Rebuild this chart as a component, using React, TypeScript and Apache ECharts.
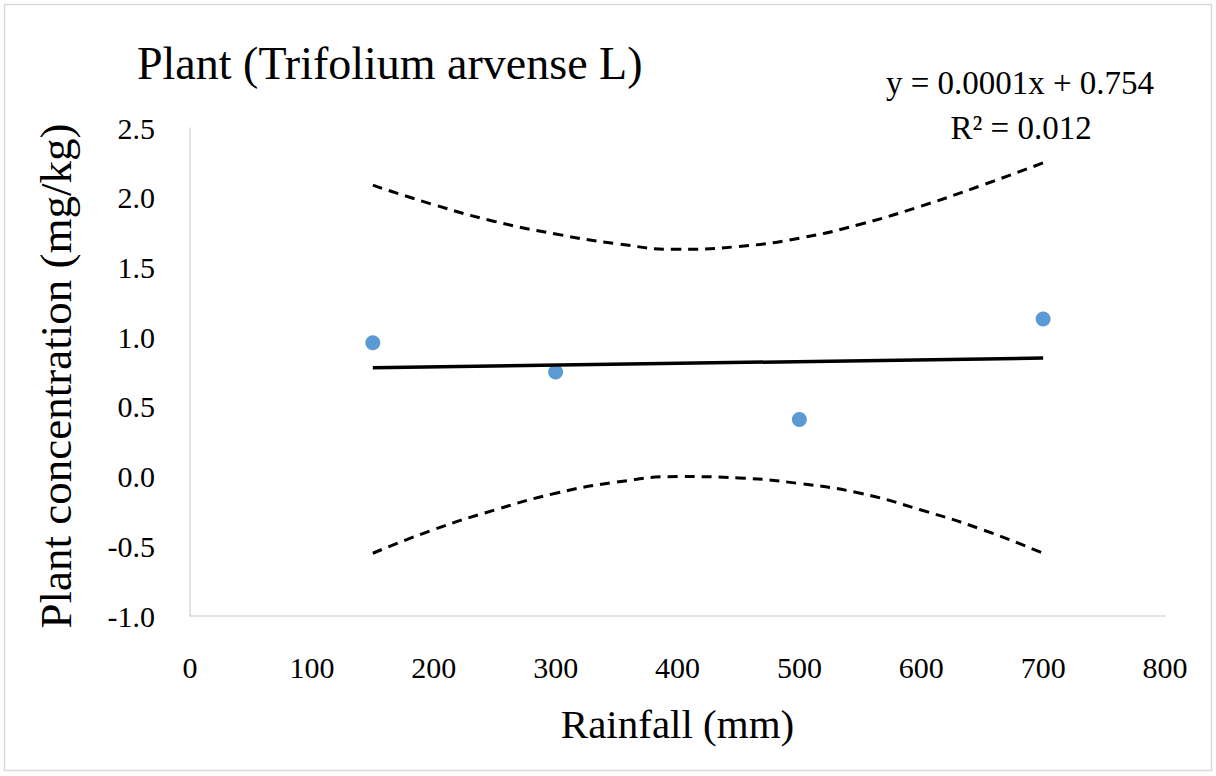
import React, { useEffect, useRef } from "react";
import * as echarts from "echarts";

const rainfall = [150, 300, 500, 700];
const concentration = [0.96, 0.75, 0.41, 1.13];
const trendX = [150, 700];
const trendY = [0.78, 0.85];
const bandX = [150, 200, 250, 300, 350, 400, 450, 500, 550, 600, 650, 700];
const upperBand = [2.09, 1.95, 1.83, 1.74, 1.67, 1.63, 1.65, 1.71, 1.81, 1.94, 2.09, 2.25];
const lowerBand = [-0.55, -0.38, -0.24, -0.12, -0.04, 0.0, -0.01, -0.05, -0.12, -0.24, -0.38, -0.55];
const titleText = "Plant (Trifolium arvense L)";
const equationText = "y = 0.0001x + 0.754";
const r2Text = "R² = 0.012";
const xName = "Rainfall (mm)";
const yName = "Plant concentration (mg/kg)";

const FONT = "Liberation Serif";

export default function App() {
  const ref = useRef<HTMLDivElement>(null);
  useEffect(() => {
    document.body.style.margin = "0";
    const chart = echarts.init(ref.current!, null, { renderer: "svg" });
    const zip = (xs: number[], ys: number[]) => xs.map((x, i) => [x, ys[i]]);
    chart.setOption({
      animation: false,
      backgroundColor: "#ffffff",
      textStyle: { fontFamily: FONT },
      grid: { left: 190, right: 51, top: 128, bottom: 160 },
      graphic: [
        {
          type: "rect",
          shape: { x: 4.5, y: 4.5, width: 1207, height: 766 },
          style: { fill: "none", stroke: "#d9d9d9", lineWidth: 1.5 },
          silent: true,
        },
        {
          type: "text",
          x: 137,
          y: 63,
          style: {
            text: titleText,
            fontFamily: FONT,
            fontSize: 46,
            fill: "#000",
            textAlign: "left",
            textVerticalAlign: "middle",
          },
        },
        {
          type: "text",
          x: 1020,
          y: 83,
          style: {
            text: equationText,
            fontFamily: FONT,
            fontSize: 33,
            fill: "#000",
            textAlign: "center",
            textVerticalAlign: "middle",
          },
        },
        {
          type: "text",
          x: 1021,
          y: 128,
          style: {
            text: r2Text,
            fontFamily: FONT,
            fontSize: 33,
            fill: "#000",
            textAlign: "center",
            textVerticalAlign: "middle",
          },
        },
      ],
      xAxis: {
        type: "value",
        min: 0,
        max: 800,
        interval: 100,
        name: xName,
        nameLocation: "middle",
        nameGap: 87,
        nameTextStyle: { fontSize: 41, color: "#000", fontFamily: FONT },
        axisLine: { show: true, onZero: false, lineStyle: { color: "#d9d9d9", width: 1.5 } },
        axisTick: { show: false },
        splitLine: { show: false },
        axisLabel: { fontSize: 30, color: "#000", margin: 36, fontFamily: FONT },
      },
      yAxis: {
        type: "value",
        min: -1,
        max: 2.5,
        interval: 0.5,
        name: yName,
        nameLocation: "middle",
        nameGap: 112,
        nameRotate: 90,
        nameTextStyle: { fontSize: 45, color: "#000", fontFamily: FONT, padding: [0, 8, 0, 0] },
        axisLine: { show: true, onZero: false, lineStyle: { color: "#d9d9d9", width: 1.5 } },
        axisTick: { show: false },
        splitLine: { show: false },
        axisLabel: {
          fontSize: 30,
          color: "#000",
          margin: 35,
          fontFamily: FONT,
          formatter: (v: number) => v.toFixed(1),
        },
      },
      series: [
        {
          type: "line",
          data: zip(bandX, upperBand),
          smooth: true,
          showSymbol: false,
          lineStyle: { color: "#000", width: 3, type: [10, 7] },
          silent: true,
        },
        {
          type: "line",
          data: zip(bandX, lowerBand),
          smooth: true,
          showSymbol: false,
          lineStyle: { color: "#000", width: 3, type: [10, 7] },
          silent: true,
        },
        {
          type: "line",
          data: zip(trendX, trendY),
          showSymbol: false,
          lineStyle: { color: "#000", width: 3.5 },
          silent: true,
        },
        {
          type: "scatter",
          data: zip(rainfall, concentration),
          symbolSize: 15,
          itemStyle: { color: "#5b9bd5", opacity: 1 },
        },
      ],
    });
    return () => chart.dispose();
  }, []);
  return <div ref={ref} style={{ width: 1216, height: 776 }} />;
}
